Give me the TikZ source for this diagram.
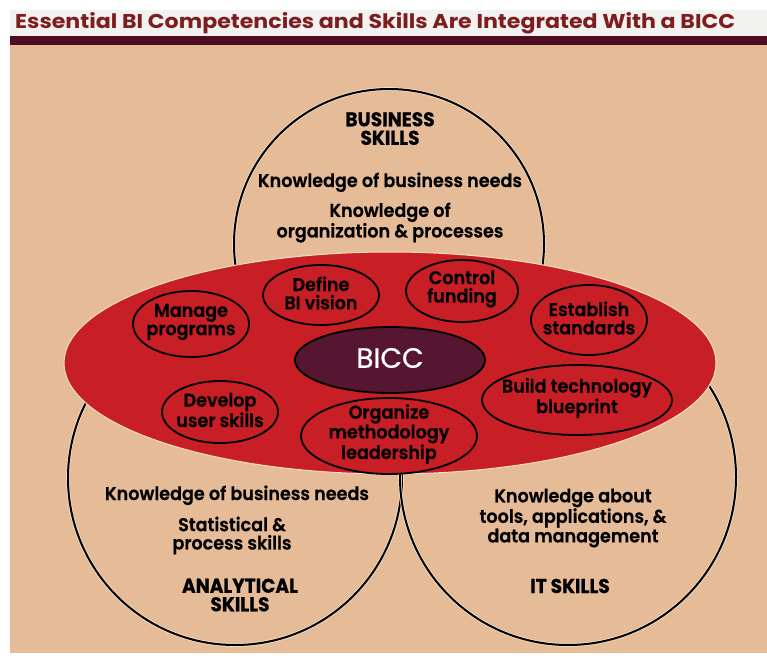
\documentclass[tikz,border=0pt]{standalone}
\usepackage{fontspec}
\setmainfont{Poppins}
\newfontfamily\semib{Poppins SemiBold}[FakeStretch=0.95,FakeBold=0.6]
\newfontfamily\boldf{Poppins Bold}[FakeStretch=0.93,FakeBold=0.6]
\newfontfamily\titlef{Poppins Bold}
\newfontfamily\regf{Poppins}[FakeBold=0.5]
\usetikzlibrary{shapes.geometric}
\definecolor{peach}{HTML}{E6BB97}
\definecolor{redf}{HTML}{C81E25}
\definecolor{biccc}{HTML}{561530}
\definecolor{barc}{HTML}{4D0C22}
\definecolor{titlered}{HTML}{7E1D20}
\definecolor{titlebg}{HTML}{F2F2F0}
\definecolor{cream}{HTML}{F5DFC4}
\begin{document}
\begin{tikzpicture}[x=1pt,y=-1pt,
  ring/.style={circle, draw=black, line width=2pt, inner sep=0pt, preaction={draw=cream, line width=3.6pt}},
  pill/.style={ellipse, draw=black, line width=1.8pt, fill=redf, inner sep=0pt},
  txt/.style={font=\semib\fontsize{18.5}{18.3}\selectfont, align=center, inner sep=0pt, text=black},
  hdr/.style={font=\boldf\fontsize{20}{18.5}\selectfont, align=center, inner sep=0pt, text=black}]
\useasboundingbox (0,0) rectangle (767,655);
\fill[white] (0,0) rectangle (767,655);
\fill[titlebg] (10,10) rectangle (767,36);
\fill[barc] (10,36) rectangle (767,45);
\fill[peach] (10,45) rectangle (767,653);
\node[anchor=base west, inner sep=0pt, text=titlered] (title) at (15,29)
  {\resizebox{720pt}{16pt}{\titlef Essential BI Competencies and Skills Are Integrated With a BICC}};
% skill circles
\node[ring, minimum size=310pt] (bus) at (389,244) {};
\node[ring, minimum size=334pt] (ana) at (235,478) {};
\node[ring, minimum size=336pt] (its) at (568,477) {};
% core ellipse
\node[ellipse, fill=redf, draw=cream, line width=1pt, minimum width=652pt, minimum height=222pt, inner sep=0pt] (core) at (390,363) {};
% competency ellipses
\node[pill, minimum width=116pt, minimum height=66pt] (mp) at (191,324) {};
\node[pill, minimum width=116pt, minimum height=60pt] (dv) at (321,295) {};
\node[pill, minimum width=112pt, minimum height=62pt] (cf) at (462,291) {};
\node[pill, minimum width=116pt, minimum height=70pt] (es) at (589,320) {};
\node[pill, minimum width=190pt, minimum height=70pt] (bt) at (577,400) {};
\node[pill, minimum width=116pt, minimum height=62pt] (du) at (220,412) {};
\node[pill, minimum width=176pt, minimum height=76pt] (om) at (389,436) {};
\node[pill, fill=biccc, minimum width=190pt, minimum height=66pt] (bicc) at (390,360) {};
% texts in ellipses
\node[txt] (tmp) at ([yshift=2pt]mp.center) {Manage\\programs};
\node[txt] (tdv) at ([yshift=2pt]dv.center) {Define\\BI vision};
\node[txt] (tcf) at ([yshift=2pt]cf.center) {Control\\funding};
\node[txt] (tes) at ([yshift=2pt]es.center) {Establish\\standards};
\node[txt] (tbt) at ([yshift=2pt]bt.center) {Build technology\\blueprint};
\node[txt] (tdu) at ([yshift=2pt]du.center) {Develop\\user skills};
\node[txt] (tom) at ([yshift=2pt]om.center) {Organize\\methodology\\leadership};
\node[inner sep=0pt, text=white, font=\regf\fontsize{28}{28}\selectfont] (tbicc) at (390,358) {BICC};
% business skills
\node[hdr] (hbus) at (390,128.5) {BUSINESS\\SKILLS};
\node[txt, anchor=base] (b1) at (390,187) {Knowledge of business needs};
\node[txt] (b2) at (390,222.5) {Knowledge of\\organization \& processes};
% analytical skills
\node[txt, anchor=base] (a1) at (237,500) {Knowledge of business needs};
\node[txt] (a2) at (232,535.5) {Statistical \&\\process skills};
\node[hdr] (hana) at (240,595) {ANALYTICAL\\SKILLS};
% IT skills
\node[txt] (i1) at (573,518) {Knowledge about\\tools, applications, \&\\data management};
\node[hdr, anchor=base] (hits) at (570,593) {IT SKILLS};
\end{tikzpicture}
\end{document}
